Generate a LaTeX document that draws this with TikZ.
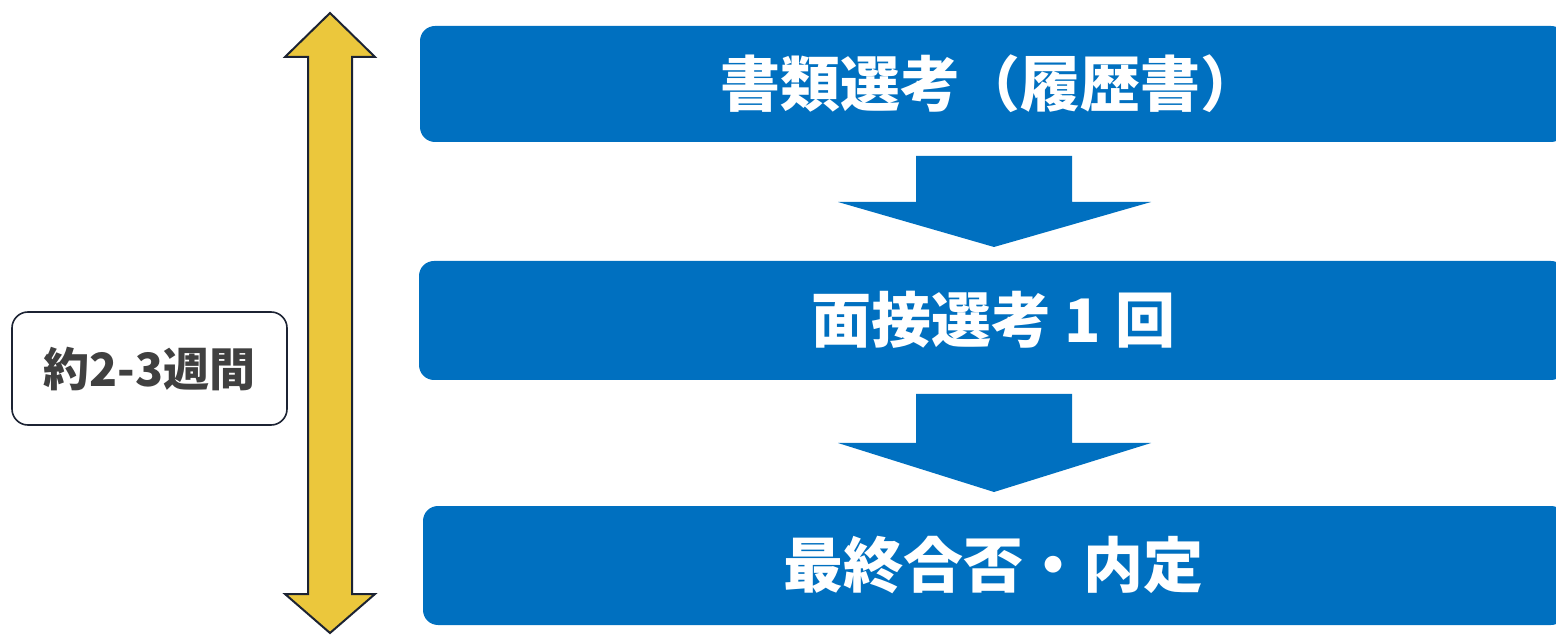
\documentclass[tikz,border=0pt]{standalone}
\usepackage{fontspec}
\newfontfamily\cjk{Noto Sans CJK JP}
\definecolor{boxblue}{HTML}{0070C0}
\definecolor{gold}{HTML}{EBC73C}
\definecolor{navy}{HTML}{1C2333}
\definecolor{labelgray}{HTML}{404040}
\begin{document}
\begin{tikzpicture}[x=0.5pt,y=-0.5pt,
  stepbox/.style={fill=boxblue, rounded corners=7.5pt, inner sep=0pt,
    text=white, font=\cjk\bfseries\fontsize{30pt}{36pt}\selectfont},
  blockarrow/.style={fill=boxblue, draw=none},
  spanarrow/.style={fill=gold, draw=navy, line width=1pt, line join=miter},
  labelbox/.style={draw=navy, line width=0.8pt, fill=white, rounded corners=8pt,
    minimum width=137.5pt, minimum height=56.5pt, inner sep=0pt,
    text=labelgray, font=\cjk\bfseries\fontsize{23pt}{28pt}\selectfont}]
\useasboundingbox (0,0) rectangle (1556,635);
\begin{scope}
\clip (0,0) rectangle (1556,635);
\node[stepbox, minimum width=573pt, minimum height=58pt] (b1) at (993,84) {};
\node[stepbox, minimum width=573.5pt, minimum height=59.5pt] (b2) at (992.5,320.5) {};
\node[stepbox, minimum width=571.5pt, minimum height=59.5pt] (b3) at (994.5,565.5) {};
\end{scope}
\node[text=white, font=\cjk\bfseries\fontsize{30pt}{36pt}\selectfont] (t1) at (990,84) {書類選考（履歴書）};
\node[text=white, font=\cjk\bfseries\fontsize{30pt}{36pt}\selectfont] (t2) at (993,320) {面接選考 1 回};
\node[text=white, font=\cjk\bfseries\fontsize{30pt}{36pt}\selectfont] (t3) at (993,565) {最終合否・内定};
% block arrows between steps
\fill[blockarrow] (916,156) -- (1072,156) -- (1072,202) -- (1151,202) -- (994,247)
  -- (838,202) -- (916,202) -- cycle;
\fill[blockarrow] (916,394) -- (1072,394) -- (1072,443) -- (1151,443) -- (994,492)
  -- (838,443) -- (916,443) -- cycle;
% duration double arrow
\draw[spanarrow] (330,13) -- (375,57) -- (352,57) -- (352,594) -- (375,594) -- (330,633)
  -- (285,594) -- (308,594) -- (308,57) -- (285,57) -- cycle;
\node[labelbox] (lbl) at (149.5,368.5) {約2-3週間};
\end{tikzpicture}
\end{document}
